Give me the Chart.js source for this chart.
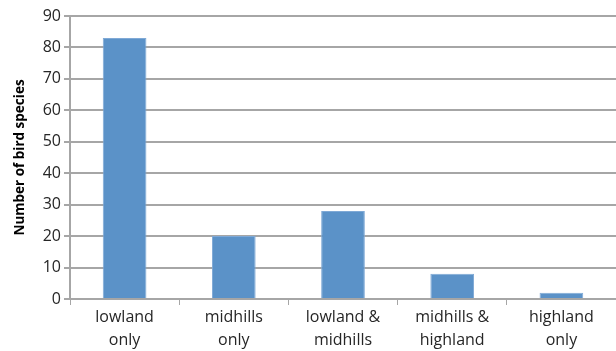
<!DOCTYPE html>
<html>
<head>
<meta charset="utf-8">
<script src="https://cdn.jsdelivr.net/npm/chart.js@4"></script>
<style>
  html, body { margin: 0; padding: 0; background: #fff; }
  #wrap { width: 616px; height: 351px; position: relative; }
</style>
</head>
<body>
<div id="wrap"><canvas id="chart"></canvas></div>
<script>
// categories and values
const categories = [
  ['lowland', 'only'],
  ['midhills', 'only'],
  ['lowland &', 'midhills'],
  ['midhills &', 'highland'],
  ['highland', 'only']
];
const speciesCounts = [83, 20, 28, 8, 2];
const yTicks = [0, 10, 20, 30, 40, 50, 60, 70, 80, 90];

const gridColor = '#a6a6a6';
const textColor = '#262626';

new Chart(document.getElementById('chart'), {
  type: 'bar',
  data: {
    labels: categories,
    datasets: [{
      data: speciesCounts,
      backgroundColor: '#5b92c8',
      borderColor: '#7fa9d6',
      borderWidth: { top: 1, left: 1, right: 1, bottom: 0 },
      categoryPercentage: 0.4,
      barPercentage: 1.0
    }]
  },
  options: {
    responsive: true,
    maintainAspectRatio: false,
    animation: false,
    layout: { padding: { top: 16, right: 0, left: 0, bottom: 0 } },
    plugins: {
      legend: { display: false },
      tooltip: { enabled: false }
    },
    scales: {
      x: {
        grid: {
          display: true,
          drawOnChartArea: false,
          drawTicks: true,
          tickLength: 6,
          color: gridColor,
          offset: true
        },
        border: { color: gridColor, width: 2 },
        ticks: {
          color: textColor,
          font: { family: 'Open Sans', size: 16, lineHeight: 1.45 },
          maxRotation: 0,
          padding: 1
        },
        afterFit: (scale) => { scale.height = 52; }
      },
      y: {
        min: 0,
        max: 90,
        afterBuildTicks: (scale) => {
          scale.ticks = yTicks.map(v => ({ value: v }));
        },
        grid: {
          color: gridColor,
          lineWidth: 2,
          tickLength: 6
        },
        border: { color: gridColor, width: 2 },
        ticks: {
          color: textColor,
          font: { family: 'Open Sans', size: 16 },
          padding: 3
        },
        title: {
          display: true,
          text: 'Number of bird species',
          color: '#000',
          font: { family: 'Open Sans', size: 13.5, weight: 'bold' },
          padding: { top: 12, bottom: 4 }
        },
        afterFit: (scale) => { scale.width = 70; }
      }
    }
  }
});
</script>
</body>
</html>
